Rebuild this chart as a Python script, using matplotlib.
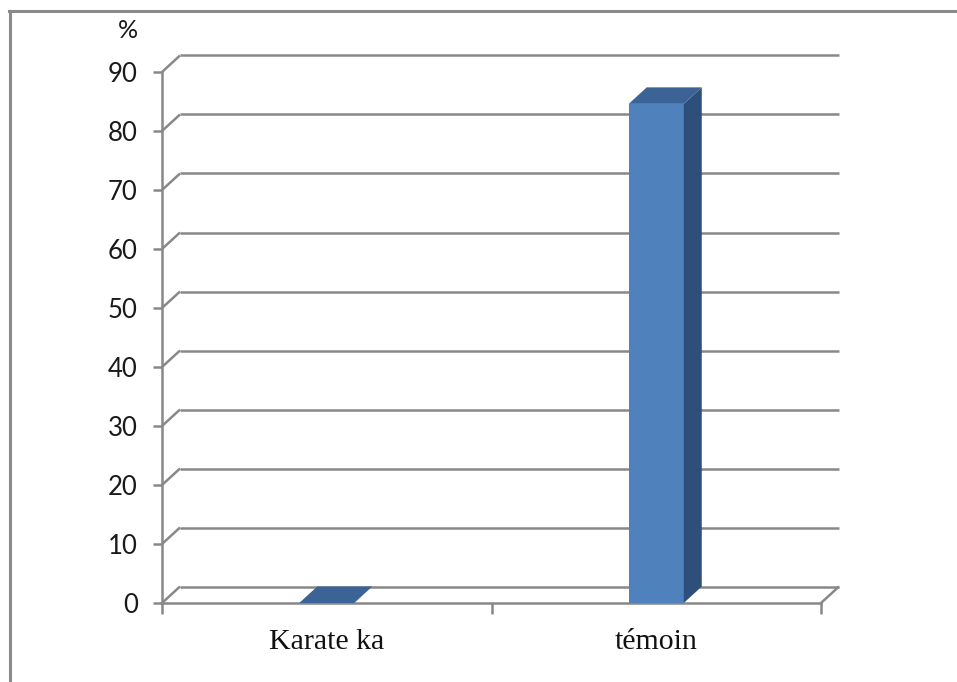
import matplotlib
matplotlib.use("Agg")
import matplotlib.pyplot as plt
from matplotlib.patches import Rectangle, Polygon
from matplotlib.lines import Line2D
import numpy as np

# Data
categories = ["Karate ka", "témoin"]
values = [0.0, 84.6]
y_ticks = [0, 10, 20, 30, 40, 50, 60, 70, 80, 90]
y_unit = "%"

# Styling
W, H, DPI = 957, 682, 100
GRID = "#888888"
FRONT = "#4f81bd"
TOP = "#3b6395"
SIDE = "#2e4f7a"
DEPTH_PX = (18, 16.5)       # 3-D depth offset of the floor/walls, in pixels
BAR_W = 0.167               # bar width in category units

fig = plt.figure(figsize=(W / DPI, H / DPI), dpi=DPI)
fig.patch.set_facecolor("white")

# Plot frame (front plane of the 3-D box)
left, right, bottom, top = 162, 821, 603, 72
ax = fig.add_axes([left / W, 1 - bottom / H, (right - left) / W, (bottom - top) / H])
ax.set_xlim(-0.5, len(categories) - 0.5)
ax.set_ylim(0, 90)
ax.set_facecolor("none")

# Convert the pixel depth offset into data units
p0 = ax.transData.transform((0, 0))
dd = ax.transData.inverted().transform(p0 + np.array(DEPTH_PX))
ddx, ddy = dd[0], dd[1]

x0, x1 = ax.get_xlim()
LW = 1.8
gkw = dict(color=GRID, lw=LW, solid_capstyle="butt", zorder=1, clip_on=False)

# Back-wall gridlines and their slanted connectors on the left wall
for v in y_ticks:
    ax.plot([x0 + ddx, x1 + ddx], [v + ddy, v + ddy], **gkw)
    ax.plot([x0, x0 + ddx], [v, v + ddy], **gkw)
# Right edge of the floor
ax.plot([x1, x1 + ddx], [0, ddy], **gkw)

# Bars as 3-D columns
for i, v in enumerate(values):
    xl, xr = i - BAR_W / 2, i + BAR_W / 2
    if v > 0:
        ax.add_patch(Rectangle((xl, 0), BAR_W, v, facecolor=FRONT, edgecolor="none",
                               zorder=4, clip_on=False))
        ax.add_patch(Polygon([(xr, 0), (xr + ddx, ddy), (xr + ddx, v + ddy), (xr, v)],
                             closed=True, facecolor=SIDE, edgecolor="none",
                             zorder=4, clip_on=False))
    ax.add_patch(Polygon([(xl, v), (xr, v), (xr + ddx, v + ddy), (xl + ddx, v + ddy)],
                         closed=True, facecolor=TOP, edgecolor="none",
                         zorder=4, clip_on=False))

# Axes lines and ticks
for side in ("top", "right"):
    ax.spines[side].set_visible(False)
for side in ("left", "bottom"):
    ax.spines[side].set_color(GRID)
    ax.spines[side].set_linewidth(LW)
    ax.spines[side].set_zorder(2)

ax.set_yticks(y_ticks)
ax.set_yticklabels([str(t) for t in y_ticks])
ax.tick_params(axis="y", direction="out", length=6.5, width=LW, color=GRID, pad=11,
               labelsize=18.5, labelcolor="#1a1a1a")
for lab in ax.get_yticklabels():
    lab.set_fontfamily("Lato")

ax.set_xticks(range(len(categories)))
ax.set_xticklabels(categories)
ax.set_xticks(np.arange(len(categories) + 1) - 0.5, minor=True)
ax.tick_params(axis="x", which="major", length=0, pad=19, labelsize=21.5, labelcolor="#111111")
ax.tick_params(axis="x", which="minor", direction="out", length=8, width=LW, color=GRID)
for lab in ax.get_xticklabels():
    lab.set_fontfamily("Liberation Serif")

# Unit label above the value axis
fig.text(128 / W, 1 - 31 / H, y_unit, ha="center", va="center", fontsize=18,
         family="Lato", color="#1a1a1a")

# Outer border of the chart area
bkw = dict(color="#8a8a8a", lw=2.2, transform=fig.transFigure)
fig.add_artist(Line2D([9.5 / W, 9.5 / W], [0, 1 - 11 / H], **bkw))
fig.add_artist(Line2D([8.5 / W, 1], [1 - 11 / H, 1 - 11 / H], **bkw))

fig.savefig("out.png", dpi=DPI, facecolor="white")
